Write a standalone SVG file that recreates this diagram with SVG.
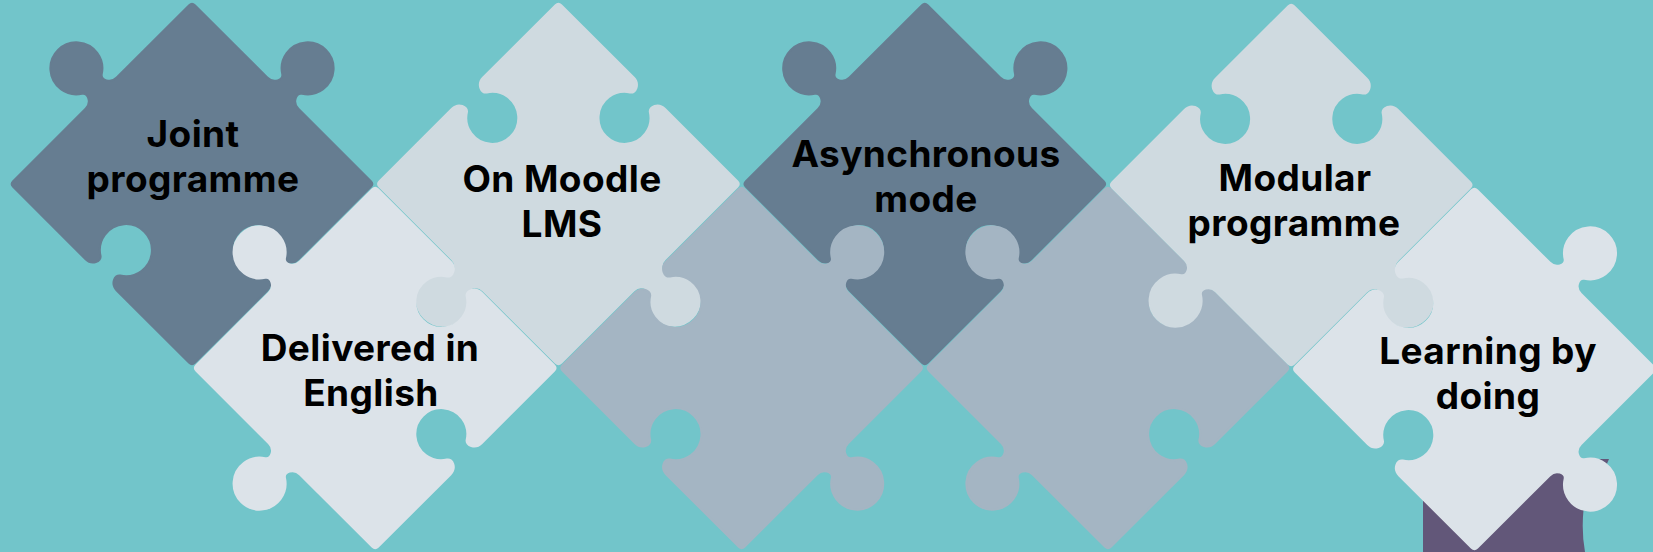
<svg xmlns="http://www.w3.org/2000/svg" width="1653" height="552" viewBox="0 0 1653 552">
<defs>
<style>
.t{font-family:Inter,"Open Sans","Liberation Sans",sans-serif;font-weight:700;font-size:37px;letter-spacing:0.4px;fill:#000;text-anchor:middle}
.pc{stroke-width:2;stroke-linejoin:round}
.dark{fill:#667d91;stroke:#667d91}
.light{fill:#cfdae0;stroke:#cfdae0}
.lightest{fill:#dce3e9;stroke:#dce3e9}
.mid{fill:#a4b5c3;stroke:#a4b5c3}
</style>
<path id="pz" d="M-124.5,-128.5 L-22,-128.5 C-13,-128.5 -9,-138.4 -14,-141.6 A26,26 0 1 1 14,-141.6 C9,-138.4 13,-128.5 22,-128.5 L124.5,-128.5 Q128.5,-128.5 128.5,-124.5 L128.5,-22 C128.5,-13 118.6,-9 115.4,-14 A26,26 0 1 0 115.4,14 C118.6,9 128.5,13 128.5,22 L128.5,124.5 Q128.5,128.5 124.5,128.5 L22,128.5 C13,128.5 9,118.6 14,115.4 A26,26 0 1 0 -14,115.4 C-9,118.6 -13,128.5 -22,128.5 L-124.5,128.5 Q-128.5,128.5 -128.5,124.5 L-128.5,22 C-128.5,13 -138.4,9 -141.6,14 A26,26 0 1 1 -141.6,-14 C-138.4,-9 -128.5,-13 -128.5,-22 L-128.5,-124.5 Q-128.5,-128.5 -124.5,-128.5 Z"/>
</defs>
<rect x="0" y="0" width="1653" height="552" fill="#72c5ca"/>
<path id="purple-piece" d="M1423,459 H1609 L1600,480 L1584,505 Q1581,530 1585,552 H1423 Z" fill="#625779"/>
<g id="p1-joint-programme">
<use href="#pz" class="pc dark" transform="translate(192,184) rotate(45)"/>
<text class="t" x="193" y="147">Joint</text>
<text class="t" x="193" y="192">programme</text>
</g>
<g id="p3-on-moodle">
<use href="#pz" class="pc light" transform="translate(558.4,184) rotate(225)"/>
<text class="t" x="562" y="192">On Moodle</text>
<text class="t" x="562" y="237">LMS</text>
</g>
<g id="p2-delivered-in-english">
<use href="#pz" class="pc lightest" transform="translate(375.2,368) rotate(315)"/>
<text class="t" x="370" y="361">Delivered in</text>
<text class="t" x="371" y="406">English</text>
</g>
<g id="p4-asynchronous-mode">
<use href="#pz" class="pc dark" transform="translate(924.8,184) rotate(45)"/>
<text class="t" x="926" y="167">Asynchronous</text>
<text class="t" x="926" y="212">mode</text>
</g>
<g id="p5-blank">
<use href="#pz" class="pc mid" transform="translate(741.6,368) rotate(135)"/>
</g>
<g id="p7-blank">
<use href="#pz" class="pc mid" transform="translate(1108,368) rotate(315)"/>
</g>
<g id="p6-modular-programme">
<use href="#pz" class="pc light" transform="translate(1291.2,185) rotate(225)"/>
<text class="t" x="1295" y="191">Modular</text>
<text class="t" x="1294" y="236">programme</text>
</g>
<g id="p8-learning-by-doing">
<use href="#pz" class="pc lightest" transform="translate(1474.4,369) rotate(135)"/>
<text class="t" x="1488" y="364">Learning by</text>
<text class="t" x="1488" y="409">doing</text>
</g>
</svg>
